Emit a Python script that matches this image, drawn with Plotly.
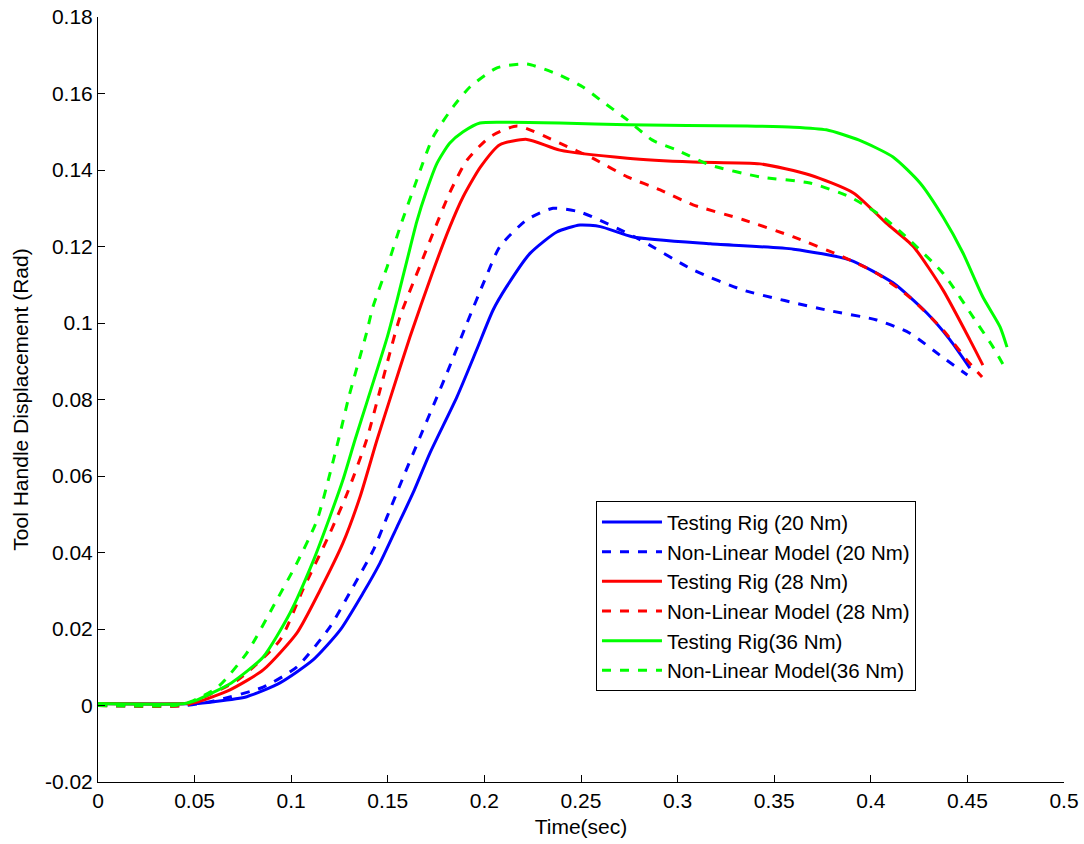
import plotly.graph_objects as go

# ---- data ----
rig20_x = [0, 0.05, 0.06, 0.077, 0.0942, 0.1113, 0.1253, 0.1372, 0.146, 0.1548, 0.163, 0.1718, 0.1858, 0.196, 0.2045, 0.2115, 0.2236, 0.2375, 0.2495, 0.26, 0.277, 0.317, 0.36, 0.389, 0.4115, 0.429, 0.441, 0.4513]
rig20_y = [0.0005, 0.0005, 0.001, 0.0023, 0.0059, 0.0119, 0.0197, 0.0294, 0.0373, 0.0467, 0.0555, 0.066, 0.0807, 0.093, 0.1034, 0.1095, 0.1182, 0.1238, 0.1256, 0.1252, 0.1225, 0.1207, 0.1193, 0.1165, 0.1105, 0.1026, 0.0956, 0.0882]

nlm20_x = [0, 0.045, 0.06, 0.0855, 0.103, 0.120, 0.132, 0.1425, 0.1496, 0.158, 0.1667, 0.1806, 0.191, 0.2, 0.208, 0.222, 0.2355, 0.2495, 0.279, 0.308, 0.334, 0.377, 0.403, 0.420, 0.437, 0.450]
nlm20_y = [0.0, 0.0, 0.0012, 0.0048, 0.0101, 0.0205, 0.031, 0.0406, 0.0493, 0.0597, 0.0702, 0.0869, 0.100, 0.111, 0.120, 0.127, 0.130, 0.129, 0.1222, 0.1139, 0.1086, 0.1034, 0.1008, 0.0974, 0.0911, 0.0864]

rig28_x = [0, 0.045, 0.052, 0.0683, 0.0855, 0.103, 0.115, 0.1268, 0.1356, 0.1444, 0.151, 0.1615, 0.173, 0.182, 0.189, 0.198, 0.208, 0.222, 0.239, 0.274, 0.308, 0.3427, 0.3685, 0.391, 0.408, 0.422, 0.4374, 0.4513, 0.458]
rig28_y = [0.0005, 0.0005, 0.001, 0.0041, 0.0093, 0.019, 0.0302, 0.0425, 0.0545, 0.0694, 0.0799, 0.0964, 0.113, 0.125, 0.133, 0.1408, 0.1466, 0.148, 0.1452, 0.1431, 0.1421, 0.1416, 0.1387, 0.134, 0.1261, 0.120, 0.1086, 0.0956, 0.089]

nlm28_x = [0, 0.045, 0.052, 0.0725, 0.0942, 0.106, 0.120, 0.129, 0.139, 0.146, 0.1563, 0.1667, 0.1734, 0.182, 0.191, 0.203, 0.217, 0.239, 0.256, 0.274, 0.291, 0.308, 0.334, 0.36, 0.3856, 0.403, 0.420, 0.4374, 0.4498, 0.4576]
nlm28_y = [0.0, 0.0, 0.0015, 0.0067, 0.0171, 0.0302, 0.045, 0.0555, 0.0694, 0.0825, 0.1016, 0.115, 0.1235, 0.134, 0.1426, 0.1487, 0.1515, 0.147, 0.1431, 0.1382, 0.1348, 0.1309, 0.127, 0.1225, 0.1173, 0.113, 0.1068, 0.0982, 0.0903, 0.0859]

rig36_x = [0, 0.045, 0.050, 0.069, 0.0855, 0.0994, 0.111, 0.120, 0.1268, 0.133, 0.139, 0.1496, 0.1548, 0.160, 0.165, 0.170, 0.1755, 0.182, 0.189, 0.1977, 0.2117, 0.239, 0.274, 0.336, 0.36, 0.377, 0.394, 0.4115, 0.4255, 0.4374, 0.4477, 0.458, 0.4669, 0.4705]
rig36_y = [0.0005, 0.0005, 0.0012, 0.0059, 0.0127, 0.0242, 0.0373, 0.0493, 0.059, 0.0694, 0.079, 0.0961, 0.106, 0.1165, 0.1265, 0.1345, 0.1418, 0.147, 0.150, 0.1523, 0.1525, 0.1523, 0.1518, 0.1515, 0.1512, 0.1505, 0.1478, 0.1434, 0.1366, 0.1277, 0.1183, 0.1068, 0.099, 0.0937]

nlm36_x = [0, 0.04, 0.048, 0.062, 0.077, 0.0906, 0.103, 0.1134, 0.1245, 0.130, 0.139, 0.1423, 0.1496, 0.1563, 0.165, 0.1734, 0.1838, 0.1925, 0.2065, 0.222, 0.239, 0.251, 0.26, 0.274, 0.287, 0.2997, 0.3168, 0.3427, 0.3685, 0.389, 0.4063, 0.420, 0.4374, 0.455, 0.4633, 0.4695]
nlm36_y = [0.0, 0.0, 0.001, 0.0048, 0.0137, 0.0258, 0.0373, 0.0485, 0.0695, 0.081, 0.0974, 0.1042, 0.1146, 0.125, 0.1374, 0.1486, 0.1565, 0.1617, 0.1667, 0.1677, 0.1648, 0.1617, 0.1583, 0.1531, 0.1478, 0.1452, 0.1413, 0.1382, 0.1366, 0.133, 0.1277, 0.1217, 0.113, 0.100, 0.0937, 0.0882]

series_names = ["Testing Rig (20 Nm)", "Non-Linear Model (20 Nm)",
                "Testing Rig (28 Nm)", "Non-Linear Model (28 Nm)",
                "Testing Rig(36 Nm)", "Non-Linear Model(36 Nm)"]

x_tickvals = [0, 0.05, 0.1, 0.15, 0.2, 0.25, 0.3, 0.35, 0.4, 0.45, 0.5]
x_ticktext = ["0", "0.05", "0.1", "0.15", "0.2", "0.25", "0.3", "0.35", "0.4", "0.45", "0.5"]
y_tickvals = [-0.02, 0, 0.02, 0.04, 0.06, 0.08, 0.1, 0.12, 0.14, 0.16, 0.18]
y_ticktext = ["-0.02", "0", "0.02", "0.04", "0.06", "0.08", "0.1", "0.12", "0.14", "0.16", "0.18"]

# ---- figure ----
FONT = "Liberation Sans, Arial, sans-serif"
series = [
    (rig20_x, rig20_y, "#0000ff", "solid"),
    (nlm20_x, nlm20_y, "#0000ff", "dash"),
    (rig28_x, rig28_y, "#ff0000", "solid"),
    (nlm28_x, nlm28_y, "#ff0000", "dash"),
    (rig36_x, rig36_y, "#00ff00", "solid"),
    (nlm36_x, nlm36_y, "#00ff00", "dash"),
]

fig = go.Figure()
for (xs, ys, col, dash), name in zip(series, series_names):
    fig.add_trace(go.Scatter(x=xs, y=ys, mode="lines", name=name,
                             line=dict(color=col, width=3, dash=dash,
                                       shape="spline", smoothing=0.6)))

fig.update_layout(
    width=1084, height=844,
    margin=dict(l=98, r=20, t=17, b=62),
    paper_bgcolor="white", plot_bgcolor="white",
    font=dict(family=FONT, size=21, color="black"),
    showlegend=True,
    legend=dict(x=0.5155, y=0.367, xanchor="left", yanchor="top",
                bordercolor="black", borderwidth=1, bgcolor="white",
                font=dict(family=FONT, size=20.5), itemwidth=60,
                tracegroupgap=0),
)
fig.update_xaxes(range=[0, 0.5], tickvals=x_tickvals, ticktext=x_ticktext,
                 automargin=False,
                 showgrid=False, zeroline=False, showline=True, linecolor="black",
                 linewidth=1, ticks="inside", ticklen=7, tickcolor="black",
                 tickfont=dict(size=21),
                 title=dict(text="Time(sec)", font=dict(size=21), standoff=8))
fig.update_yaxes(range=[-0.02, 0.18], tickvals=y_tickvals, ticktext=y_ticktext,
                 automargin=False,
                 showgrid=False, zeroline=False, showline=True, linecolor="black",
                 linewidth=1, ticks="inside", ticklen=7, tickcolor="black",
                 tickfont=dict(size=21),
                 title=dict(text="Tool Handle Displacement (Rad)", font=dict(size=21), standoff=10))

fig.write_html("out.html")
